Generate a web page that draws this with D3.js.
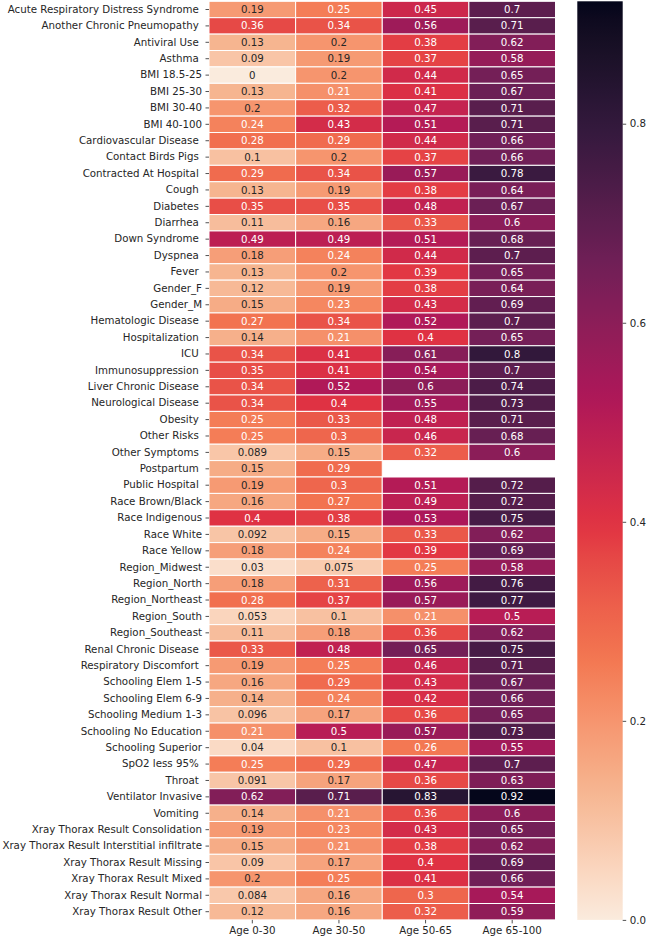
<!DOCTYPE html>
<html><head><meta charset="utf-8">
<script src="https://cdn.jsdelivr.net/npm/d3@7"></script>
<style>body{margin:0;background:#fff}svg{display:block}text{font-family:"DejaVu Sans",sans-serif}</style>
</head><body><svg id="chart" width="648" height="939"></svg>
<script>
const rows = ["Acute Respiratory Distress Syndrome ","Another Chronic Pneumopathy ","Antiviral Use ","Asthma ","BMI 18.5-25","BMI 25-30","BMI 30-40","BMI 40-100","Cardiovascular Disease ","Contact Birds Pigs ","Contracted At Hospital ","Cough ","Diabetes ","Diarrhea ","Down Syndrome ","Dyspnea ","Fever ","Gender_F","Gender_M","Hematologic Disease ","Hospitalization ","ICU ","Immunosuppression ","Liver Chronic Disease ","Neurological Disease ","Obesity ","Other Risks ","Other Symptoms ","Postpartum ","Public Hospital ","Race Brown/Black","Race Indigenous","Race White","Race Yellow","Region_Midwest","Region_North","Region_Northeast","Region_South","Region_Southeast","Renal Chronic Disease ","Respiratory Discomfort ","Schooling Elem 1-5","Schooling Elem 6-9","Schooling Medium 1-3","Schooling No Education","Schooling Superior","SpO2 less 95% ","Throat ","Ventilator Invasive","Vomiting ","Xray Thorax Result Consolidation","Xray Thorax Result Interstitial infiltrate","Xray Thorax Result Missing","Xray Thorax Result Mixed","Xray Thorax Result Normal","Xray Thorax Result Other"];
const columns = ["Age 0-30","Age 30-50","Age 50-65","Age 65-100"];
const age0_30  = [0.19,0.36,0.13,0.09,0,0.13,0.2,0.24,0.28,0.1,0.29,0.13,0.35,0.11,0.49,0.18,0.13,0.12,0.15,0.27,0.14,0.34,0.35,0.34,0.34,0.25,0.25,0.089,0.15,0.19,0.16,0.4,0.092,0.18,0.03,0.18,0.28,0.053,0.11,0.33,0.19,0.16,0.14,0.096,0.21,0.04,0.25,0.091,0.62,0.14,0.19,0.15,0.09,0.2,0.084,0.12];
const age30_50 = [0.25,0.34,0.2,0.19,0.2,0.21,0.32,0.43,0.29,0.2,0.34,0.19,0.35,0.16,0.49,0.24,0.2,0.19,0.23,0.34,0.21,0.41,0.41,0.52,0.4,0.33,0.3,0.15,0.29,0.3,0.27,0.38,0.15,0.24,0.075,0.31,0.37,0.1,0.18,0.48,0.25,0.29,0.24,0.17,0.5,0.1,0.29,0.17,0.71,0.21,0.23,0.21,0.17,0.25,0.16,0.16];
const age50_65 = [0.45,0.56,0.38,0.37,0.44,0.41,0.47,0.51,0.44,0.37,0.57,0.38,0.48,0.33,0.51,0.44,0.39,0.38,0.43,0.52,0.4,0.61,0.54,0.6,0.55,0.48,0.46,0.32,null,0.51,0.49,0.53,0.33,0.39,0.25,0.56,0.57,0.21,0.36,0.65,0.46,0.43,0.42,0.36,0.57,0.26,0.47,0.36,0.83,0.36,0.43,0.38,0.4,0.41,0.3,0.32];
const age65_100= [0.7,0.71,0.62,0.58,0.65,0.67,0.71,0.71,0.66,0.66,0.78,0.64,0.67,0.6,0.68,0.7,0.65,0.64,0.69,0.7,0.65,0.8,0.7,0.74,0.73,0.71,0.68,0.6,null,0.72,0.72,0.75,0.62,0.69,0.58,0.76,0.77,0.5,0.62,0.75,0.71,0.67,0.66,0.65,0.73,0.55,0.7,0.63,0.92,0.6,0.65,0.62,0.69,0.66,0.54,0.59];
const colorbarTicks = [0.0,0.2,0.4,0.6,0.8];
const colorMin = 0, colorMax = 0.923;

const series = [age0_30, age30_50, age50_65, age65_100];
const cells = [];
rows.forEach((r,i)=>columns.forEach((c,j)=>{ if(series[j][i]!==null) cells.push({row:r,col:c,v:series[j][i]}); }));

// rocket colormap stops
const rocketStops = [0,1/7,2/7,3/7,4/7,5/7,6/7,1];
const rocketColors = ["#03051a","#35193e","#701f57","#ad1759","#e13342","#f37651","#f6b48f","#faebdd"];
const rocket = d3.scaleLinear().domain(rocketStops).range(rocketColors).interpolate(d3.interpolateLab);
const color = v => rocket(1 - (v - colorMin)/(colorMax - colorMin));

function lum(c){
  const rgb = d3.rgb(c);
  const f = x => { x/=255; return x<=0.03928 ? x/12.92 : Math.pow((x+0.055)/1.055,2.4); };
  return 0.2126*f(rgb.r)+0.7152*f(rgb.g)+0.0722*f(rgb.b);
}

const FS = "10.25px";
const svg = d3.select("#chart");
const L = 209, R = 555.5, T = 1.3, B = 919.9;
const x = d3.scaleBand().domain(columns).range([L,R]);
const y = d3.scaleBand().domain(rows).range([T,B]);
const fmt = d3.format(".2~g");

svg.append("g").selectAll("rect").data(cells).join("rect")
  .attr("x", d=>x(d.col)).attr("y", d=>y(d.row))
  .attr("width", x.bandwidth()).attr("height", y.bandwidth())
  .attr("fill", d=>color(d.v)).attr("stroke","#fff").attr("stroke-width",1);

svg.append("g").selectAll("text").data(cells).join("text")
  .attr("x", d=>x(d.col)+x.bandwidth()/2).attr("y", d=>y(d.row)+y.bandwidth()/2)
  .attr("text-anchor","middle").attr("dy","0.35em")
  .attr("font-size",FS)
  .attr("fill", d=> lum(color(d.v))>0.408 ? "#262626" : "#ffffff")
  .text(d=>fmt(d.v));

const yAxis = svg.append("g").attr("transform",`translate(${L},0)`)
  .call(d3.axisLeft(y).tickSize(3.5).tickPadding(3.5));
yAxis.select(".domain").remove();
yAxis.selectAll("text").attr("font-size",FS).attr("fill","#262626").style("white-space","pre").attr("font-family","DejaVu Sans");
yAxis.selectAll("line").attr("stroke","#262626").attr("stroke-width",0.8);

const xAxis = svg.append("g").attr("transform",`translate(0,${B})`)
  .call(d3.axisBottom(x).tickSize(3.5).tickPadding(3.5));
xAxis.select(".domain").remove();
xAxis.selectAll("text").attr("font-size",FS).attr("fill","#262626").attr("font-family","DejaVu Sans");
xAxis.selectAll("line").attr("stroke","#262626").attr("stroke-width",0.8);

// colorbar
const cbL = 577.3, cbR = 622.7;
const cy = d3.scaleLinear().domain([colorMin,colorMax]).range([B,T]);
const defs = svg.append("defs");
const grad = defs.append("linearGradient").attr("id","cbgrad").attr("x1",0).attr("y1",1).attr("x2",0).attr("y2",0);
d3.range(0,1.0001,0.02).forEach(t=>{
  grad.append("stop").attr("offset",t).attr("stop-color", color(colorMin + t*(colorMax-colorMin)));
});
svg.append("rect").attr("x",cbL).attr("y",T).attr("width",cbR-cbL).attr("height",B-T).attr("fill","url(#cbgrad)");
const cAxis = svg.append("g").attr("transform",`translate(${cbR},0)`)
  .call(d3.axisRight(cy).tickValues(colorbarTicks).tickFormat(d3.format(".1f")).tickSize(3.5).tickPadding(3.5));
cAxis.select(".domain").remove();
cAxis.selectAll("text").attr("font-size",FS).attr("fill","#262626").attr("font-family","DejaVu Sans");
cAxis.selectAll("line").attr("stroke","#262626").attr("stroke-width",0.8);
</script></body></html>
